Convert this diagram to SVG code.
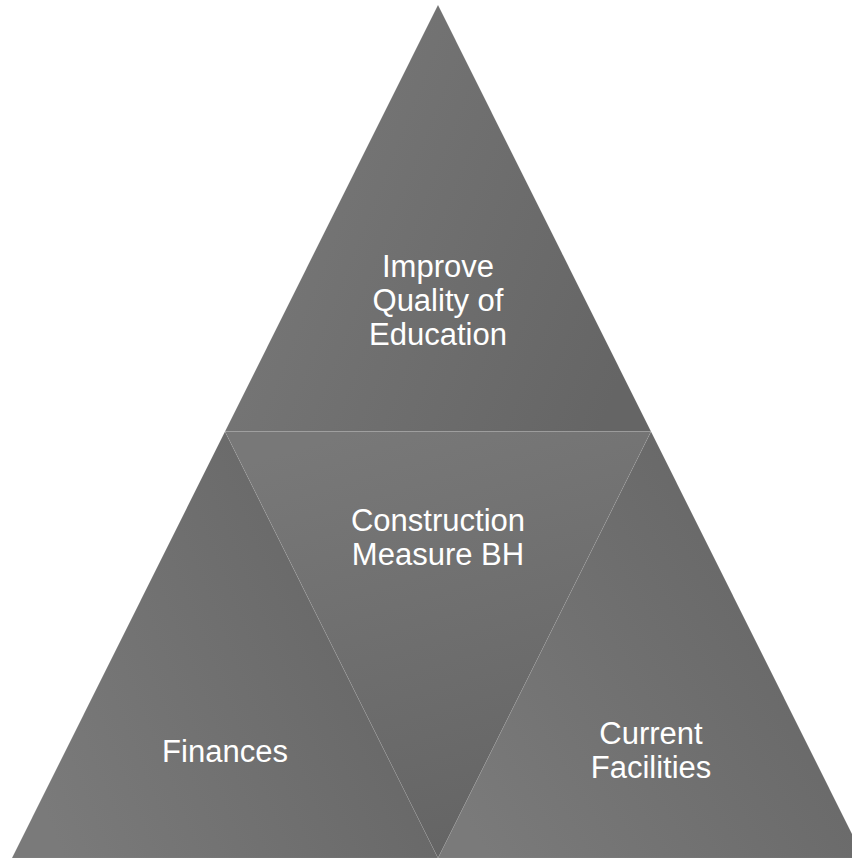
<svg xmlns="http://www.w3.org/2000/svg" width="852" height="858" viewBox="0 0 852 858">
  <defs>
    <linearGradient id="gTop" x1="0" y1="0.3" x2="1" y2="0.7">
      <stop offset="0" stop-color="#797979"/>
      <stop offset="1" stop-color="#656565"/>
    </linearGradient>
    <linearGradient id="gMid" x1="0.3" y1="0" x2="0.6" y2="1">
      <stop offset="0" stop-color="#787878"/>
      <stop offset="1" stop-color="#646464"/>
    </linearGradient>
    <linearGradient id="gLeft" x1="0" y1="0.7" x2="1" y2="0.3">
      <stop offset="0" stop-color="#7a7a7a"/>
      <stop offset="1" stop-color="#646464"/>
    </linearGradient>
    <linearGradient id="gRight" x1="0" y1="0.8" x2="1" y2="0.2">
      <stop offset="0" stop-color="#7a7a7a"/>
      <stop offset="1" stop-color="#636363"/>
    </linearGradient>
  </defs>
  <style>
    .tri { stroke: #ffffff; stroke-opacity: 0.06; stroke-width: 1; }
    .lbl { font-family: "Liberation Sans", Arial, sans-serif; font-size: 31px; fill: #ffffff; text-anchor: middle; }
  </style>
  <rect width="852" height="858" fill="#ffffff"/>
  <g id="node-top">
    <polygon class="tri" points="438,5 651,431.5 225,431.5" fill="url(#gTop)"/>
    <text class="lbl" x="438" y="277">Improve</text>
    <text class="lbl" x="438" y="311">Quality of</text>
    <text class="lbl" x="438" y="345">Education</text>
  </g>
  <g id="node-left">
    <polygon class="tri" points="225,431.5 438,858 12,858" fill="url(#gLeft)"/>
    <text class="lbl" x="225" y="762">Finances</text>
  </g>
  <g id="node-right">
    <polygon class="tri" points="651,431.5 864,858 438,858" fill="url(#gRight)"/>
    <text class="lbl" x="651" y="744">Current</text>
    <text class="lbl" x="651" y="778">Facilities</text>
  </g>
  <g id="node-middle">
    <polygon class="tri" points="225,431.5 651,431.5 438,858" fill="url(#gMid)"/>
    <text class="lbl" x="438" y="531">Construction</text>
    <text class="lbl" x="438" y="565">Measure BH</text>
  </g>
</svg>
